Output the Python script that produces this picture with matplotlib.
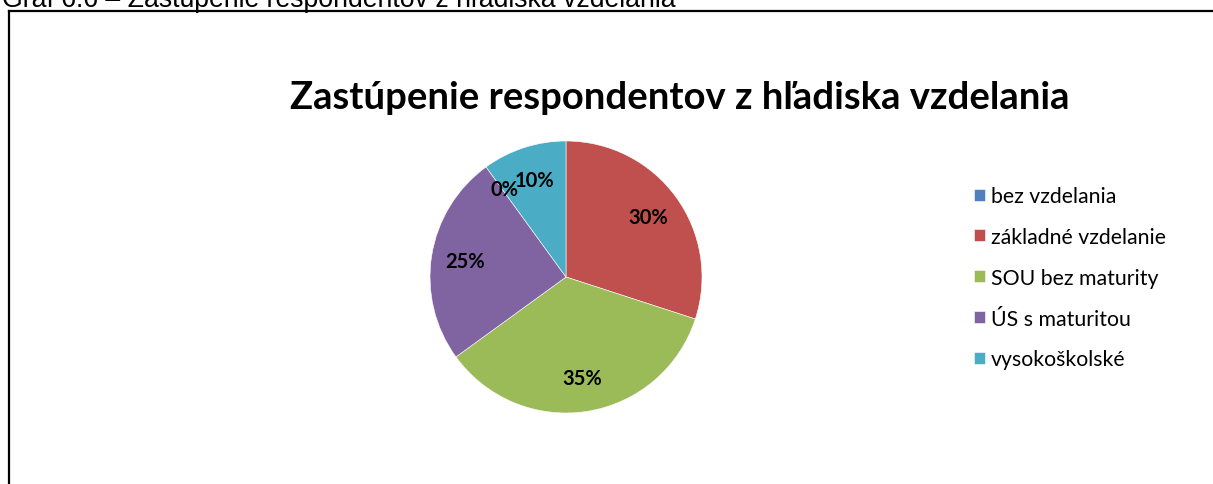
import matplotlib.pyplot as plt
from matplotlib.lines import Line2D

categories = ["bez vzdelania", "základné vzdelanie", "SOU bez maturity", "ÚS s maturitou", "vysokoškolské"]
shares = [0, 30, 35, 25, 10]
colors = ["#4F81BD", "#C0504D", "#9BBB59", "#8064A2", "#4BACC6"]

W, H = 1213, 485
fig = plt.figure(figsize=(W / 100, H / 100), dpi=100)

# pie axes: centre (566, 278), radius 136 px
cx, cy, r = 566, 278, 136
ax = fig.add_axes([(cx - r) / W, (H - cy - r) / H, 2 * r / W, 2 * r / H])
wedges, _, autotexts = ax.pie(
    shares,
    colors=colors,
    startangle=90,
    counterclock=False,
    autopct="%d%%",
    pctdistance=0.75,
    wedgeprops=dict(edgecolor="white", linewidth=0.4),
    textprops=dict(fontsize=14.5, fontweight="bold", family="Lato"),
)
ax.set_xlim(-1, 1)
ax.set_ylim(-1, 1)
# the 0% label sits off to the left in the original
autotexts[0].set_position((-0.45, 0.65))

fig.text(680 / W, 1 - 98 / H, "Zastúpenie respondentov z hľadiska vzdelania",
         ha="center", va="center", fontsize=27.5, fontweight="bold", family="Lato")

fig.legend(wedges, categories, loc="upper left", bbox_to_anchor=(955 / W, 1 - 168 / H),
           frameon=False, handlelength=0.5, handleheight=0.5, handletextpad=0.3,
           labelspacing=0.98, prop=dict(family="Lato", size=15.3))

# caption cut off at the top
fig.text(2 / W, 1 - 7 / H, "Graf 6.6 – Zastúpenie respondentov z hľadiska vzdelania",
         ha="left", va="baseline", fontsize=19.2, family="Liberation Sans")

# frame (only top and left edges visible)
fig.add_artist(Line2D([9 / W, 9 / W], [0, 1 - 12 / H], transform=fig.transFigure, color="black", lw=1.6))
fig.add_artist(Line2D([9 / W, 1], [1 - 12 / H, 1 - 12 / H], transform=fig.transFigure, color="black", lw=1.6))

fig.savefig("out.png", dpi=100)
